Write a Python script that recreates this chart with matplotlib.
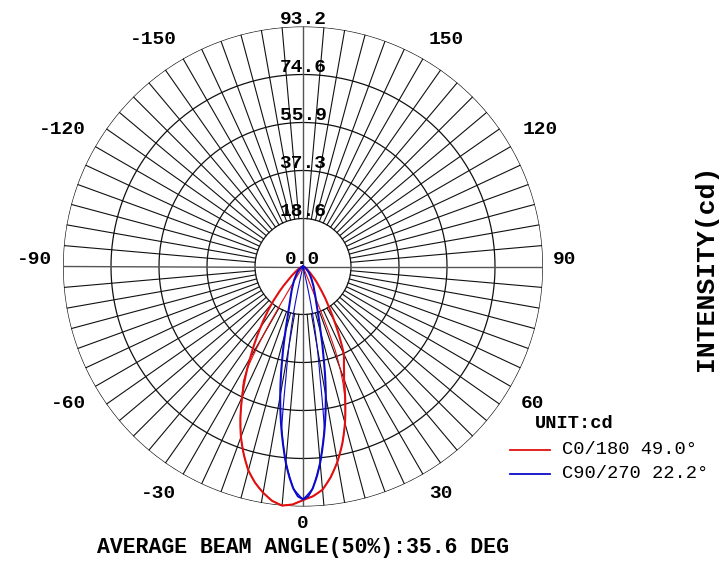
import numpy as np
import matplotlib
matplotlib.use("Agg")
import matplotlib.pyplot as plt
import matplotlib.transforms as mtransforms
from matplotlib.lines import Line2D

# ---------------- data ----------------
max_cd = 93.2
ring_labels = ["0.0", "18.6", "37.3", "55.9", "74.6", "93.2"]
angle_labels = ["0", "30", "60", "90", "120", "150", "-150", "-120", "-90", "-60", "-30"]

# C0/180 (main curve)
red_angles = [-90, -80, -70, -60, -55, -50, -47.5, -45, -42.5, -40, -37.5, -35, -32.5,
              -30, -27.5, -25, -22.5, -20, -17.5, -15, -12.5, -10, -7.5, -5, -2.5,
              0, 2.5, 5, 7.5, 10, 12.5, 15, 17.5, 20, 22.5, 25, 27.5, 30, 32.5, 35,
              37.5, 40, 45, 50, 55, 60, 70, 80, 90]
red_values = [0, 0.3, 0.8, 2, 3.5, 6, 8, 11, 14.5, 19, 23.5, 28.5, 34.5,
              41, 48.5, 56, 63.5, 70.5, 76.5, 82, 86, 89.2, 91.8, 93.2, 92.5,
              90.7, 89.3, 87, 82.5, 77, 70.5, 63, 54.5, 46.5, 41.5, 37.5, 30.5, 24, 19, 15,
              11.5, 9, 5, 3, 2, 1.3, 0.5, 0.2, 0]
# C0/180 (thin secondary trace)
red2_angles = [-90, -31.5, -31, -30.5, -30.2, -29.5, -28.7, -27.5, -25, -22.5, -20, -17.5,
               -15, -12.5, -10, -7.5, -5, -2.5, 0, 2.5, 5, 7.5, 10, 12.5, 15, 17.5,
               19, 20, 21, 21.5, 21.7, 21.8, 22, 90]
red2_values = [0, 0, 12, 22, 28.5, 37, 44.8, 50, 56, 63.5, 70.5, 76.5,
               82, 86, 89.2, 91.8, 93.2, 92.5, 90.7, 89.3, 87, 82.5, 77, 70.5, 63, 54.5,
               47.5, 42, 35, 27, 18, 10, 0, 0]

# C90/270 (main curve)
blue_angles = [-90, -75, -60, -50, -40, -35, -30, -25, -22.5, -20, -17.5, -15, -12.5,
               -10, -7.5, -5, -3.75, -2.5, -1.25, 0, 1.25, 2.5, 3.75, 5, 7.5, 10, 12.5,
               15, 17.5, 20, 22.5, 25, 30, 35, 40, 50, 60, 75, 90]
blue_values = [0, 0.3, 1, 2, 4, 5.5, 7.5, 10.5, 12.5, 15, 19.5, 26.5, 37.5,
               51, 64, 76.5, 81.8, 86.3, 89.3, 90.4, 89.3, 86.3, 81.8, 76.5, 64, 51, 37.5,
               26.5, 19.5, 15, 12.5, 10.5, 7.5, 5.5, 4, 2, 1, 0.3, 0]
# C90/270 (thin secondary trace)
blue2_angles = [-90, -13, -12.5, -12, -11.3, -10.5, -9.5, -8.7, -8.2, -7.5, -5, -2.5, 0,
                2.5, 5, 7.5, 8.2, 8.7, 9.5, 10.5, 11.3, 12, 12.5, 13, 90]
blue2_values = [0, 0, 7, 13, 20, 27, 36, 44, 52, 63.5, 76.5, 86.3, 90.4,
                86.3, 76.5, 63.5, 52, 44, 36, 27, 20, 13, 7, 0, 0]

legend_labels = ["C0/180 49.0°", "C90/270 22.2°"]
unit_label = "UNIT:cd"
axis_title = "INTENSITY(cd)"
footer = "AVERAGE BEAM ANGLE(50%):35.6 DEG"

# ---------------- style ----------------
RED = "#e01010"
BLUE = "#0c0cc8"
FONT = ["Liberation Mono", "DejaVu Sans Mono"]
plt.rcParams["font.family"] = FONT

W, H = 725, 565
fig = plt.figure(figsize=(W / 100, H / 100), dpi=100)
cx, cy, R = 303, 266.5, 240
ax = fig.add_axes([(cx - R) / W, (H - cy - R) / H, 2 * R / W, 2 * R / H], projection="polar")
ax.set_theta_zero_location("S")
ax.set_theta_direction(1)
ax.set_ylim(0, max_cd)
ax.grid(False)
ax.set_xticks([])
ax.set_yticks([])
ax.spines["polar"].set_visible(False)
ax.set_facecolor("none")

step = max_cd / 5
th = np.linspace(0, 2 * np.pi, 721)
for k in range(1, 6):
    ax.plot(th, np.full_like(th, k * step), color="#111111", lw=0.9, zorder=1)
for a in range(0, 360, 5):
    t = np.deg2rad(a)
    if a % 90 == 0:
        ax.plot([t, t], [0, max_cd], color="#555555", lw=1.0, zorder=1)
    else:
        ax.plot([t, t], [step, max_cd], color="#111111", lw=0.8, zorder=1)

# curves
curves = [
    (red2_angles, red2_values, RED, 0.8, 3),
    (blue2_angles, blue2_values, BLUE, 0.8, 3),
    (red_angles, red_values, RED, 1.5, 4),
    (blue_angles, blue_values, BLUE, 1.5, 4),
]
for angs, vals, col, lw, z in curves:
    ln, = ax.plot(np.deg2rad(angs), vals, color=col, lw=lw, zorder=z, clip_on=False,
                  solid_joinstyle="round")
    ln.get_path()._interpolation_steps = 16

# ring labels
tr_ring = mtransforms.offset_copy(ax.transData, fig=fig, x=0, y=2.5, units="dots")
for k, s in enumerate(ring_labels):
    ax.text(np.pi, k * step, s, transform=tr_ring, ha="center", va="baseline",
            fontsize=14, fontweight="bold", zorder=5)

# angle labels (pixel centres, layout only)
label_px = [(303, 524), (441, 493), (532, 403), (565, 260), (540, 130), (446, 40),
            (153, 40), (62, 130), (35, 260), (69, 403), (159, 493)]
for s, (px, py) in zip(angle_labels, label_px):
    fig.text(px / W, 1 - py / H, s, ha="center", va="center",
             fontsize=14, fontweight="bold")

# side title and footer
fig.text(706 / W, 1 - 268 / H, axis_title, rotation=90, ha="center", va="center",
         fontsize=19, fontweight="bold")
fig.text(303 / W, 1 - 548 / H, footer, ha="center", va="center",
         fontsize=15.5, fontweight="bold")

# legend
fig.text(535 / W, 1 - 423 / H, unit_label, ha="left", va="center", fontsize=13.5, fontweight="bold")
for i, (lab, col) in enumerate(zip(legend_labels, [RED, BLUE])):
    y = 1 - (450 + 24 * i) / H
    fig.add_artist(Line2D([510 / W, 550 / W], [y, y], color=col, lw=1.3))
    fig.text(562 / W, y, lab, ha="left", va="center", fontsize=13.5)

fig.savefig("out.png", dpi=100)
